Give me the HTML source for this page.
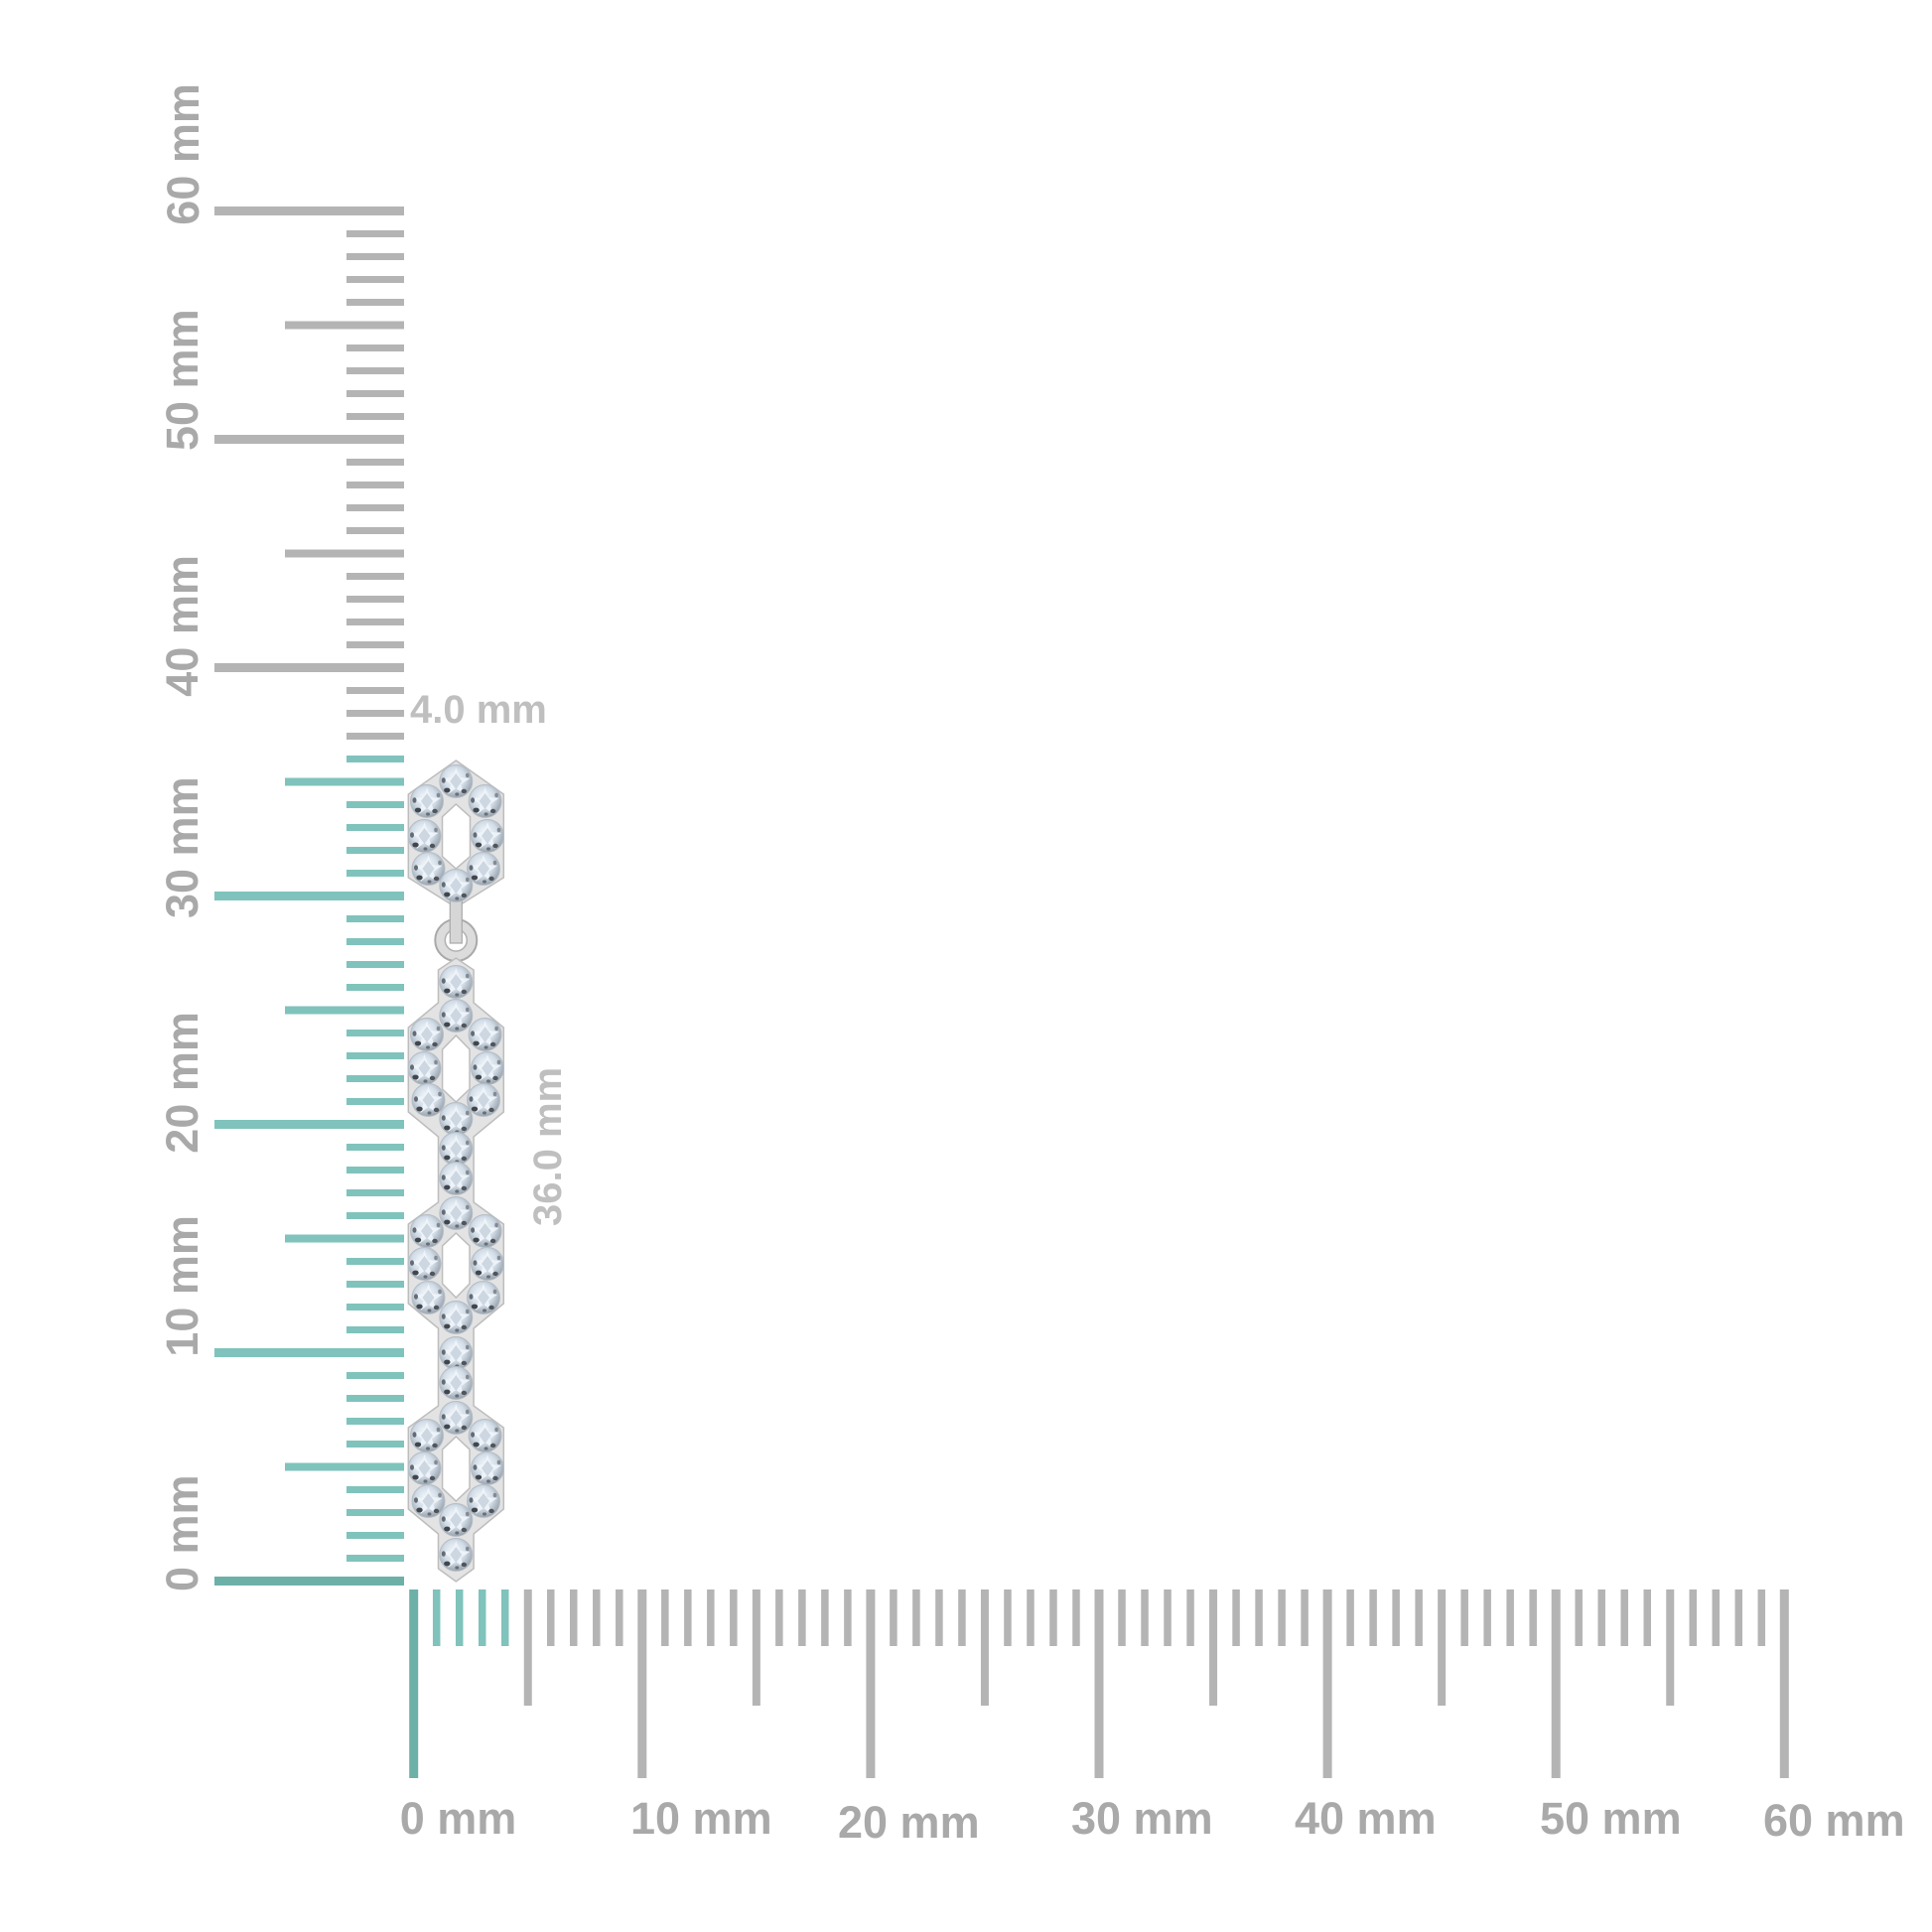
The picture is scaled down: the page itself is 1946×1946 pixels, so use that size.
<!DOCTYPE html>
<html>
<head>
<meta charset="utf-8">
<style>
  html,body{margin:0;padding:0;background:#ffffff;}
  svg{display:block;}
  .ax{font-family:"Liberation Sans",Arial,sans-serif;font-weight:bold;font-size:45px;fill:#a9a9a9;}
  .dim{font-family:"Liberation Sans",Arial,sans-serif;font-weight:bold;font-size:40px;fill:#bfbfbf;}
</style>
</head>
<body>
<svg xmlns="http://www.w3.org/2000/svg" width="1946" height="1946" viewBox="0 0 1946 1946">
  <defs>
    <radialGradient id="sg" cx="45%" cy="40%" r="60%">
      <stop offset="0%" stop-color="#f8fbfd"/>
      <stop offset="55%" stop-color="#d2dde8"/>
      <stop offset="100%" stop-color="#98a3ae"/>
    </radialGradient>
    <g id="stone">
      <circle r="16.5" fill="url(#sg)" stroke="#b5bdc5" stroke-width="1"/>
      <path d="M0,-14 L3.5,-4 L14,-3 L5,3 L8,13 L0,7 L-8,13 L-5,3 L-14,-3 L-3.5,-4 Z" fill="#f0f5fa" opacity="0.9"/>
      <path d="M0,-8 L6,0 L0,8 L-6,0 Z" fill="#c4d0dc" opacity="0.8"/>
      <ellipse cx="-9" cy="9" rx="3.2" ry="2.4" fill="#41464c"/>
      <ellipse cx="8" cy="10" rx="2.8" ry="2.2" fill="#50555c"/>
      <ellipse cx="-12.5" cy="-1" rx="2" ry="2.8" fill="#656b73"/>
      <ellipse cx="11.5" cy="-6" rx="1.8" ry="2.2" fill="#848a92"/>
      <ellipse cx="1" cy="13" rx="2" ry="1.6" fill="#6a7078"/>
    </g>
  </defs>

  <rect width="1946" height="1946" fill="#ffffff"/>

  <g id="vticks"></g>
  <g id="hticks"></g>

  <script><![CDATA[
    (function(){
      var ns="http://www.w3.org/2000/svg";
      var vg=document.getElementById("vticks");
      for(var v=0;v<=60;v++){
        var y=1592.5-v*23.0;
        var r=document.createElementNS(ns,"rect");
        var x0,h;
        if(v%10==0){x0=216;h=9;}else if(v%5==0){x0=287;h=8;}else{x0=349;h=7;}
        r.setAttribute("x",x0);r.setAttribute("y",y-h/2);
        r.setAttribute("width",407-x0);r.setAttribute("height",h);
        var c=v<=36?"#7fc3bc":"#b4b4b4";
        if(v==0)c="#6cb0a8";
        r.setAttribute("fill",c);
        vg.appendChild(r);
      }
      var hg=document.getElementById("hticks");
      for(var v=0;v<=60;v++){
        var x=416.7+v*23.01;
        var r=document.createElementNS(ns,"rect");
        var y1,w;
        if(v%10==0){y1=1791;w=9;}else if(v%5==0){y1=1718;w=8;}else{y1=1658;w=7.5;}
        r.setAttribute("x",x-w/2);r.setAttribute("y",1601);
        r.setAttribute("width",w);r.setAttribute("height",y1-1601);
        var c=v<=4?"#7fc3bc":"#b4b4b4";
        if(v==0)c="#6cb0a8";
        r.setAttribute("fill",c);
        hg.appendChild(r);
      }
    })();
  ]]></script>

  <!-- vertical axis labels -->
  <text class="ax" transform="translate(199,1603) rotate(-90)">0 mm</text>
  <text class="ax" transform="translate(199,1366.7) rotate(-90)">10 mm</text>
  <text class="ax" transform="translate(199,1161.7) rotate(-90)">20 mm</text>
  <text class="ax" transform="translate(199,925) rotate(-90)">30 mm</text>
  <text class="ax" transform="translate(199,701.7) rotate(-90)">40 mm</text>
  <text class="ax" transform="translate(199,454) rotate(-90)">50 mm</text>
  <text class="ax" transform="translate(200,226.7) rotate(-90)">60 mm</text>

  <!-- horizontal axis labels -->
  <text class="ax" x="402.7" y="1847">0 mm</text>
  <text class="ax" x="635" y="1847">10 mm</text>
  <text class="ax" x="844" y="1851">20 mm</text>
  <text class="ax" x="1079" y="1847">30 mm</text>
  <text class="ax" x="1304" y="1847">40 mm</text>
  <text class="ax" x="1551" y="1847">50 mm</text>
  <text class="ax" x="1776" y="1849">60 mm</text>

  <!-- dimension labels -->
  <text class="dim" x="413" y="728">4.0 mm</text>
  <text class="dim" transform="translate(565,1235) rotate(-90)">36.0 mm</text>

  <!-- earring -->
  <g>
    <path fill-rule="evenodd" fill="#e3e3e3" stroke="#bdbdbd" stroke-width="1.5"
      d="M459.3,766 L507.3,800 L507.3,884 L459.3,914 L411.3,884 L411.3,800 Z
         M459.3,810 L473.5,822.7 L473.5,862.7 L459.3,875 L445.5,862.7 L445.5,822.7 Z"/>
    <circle cx="459.3" cy="947" r="21" fill="#dcdcdc" stroke="#a9a9a9" stroke-width="2"/>
    <circle cx="459.3" cy="947" r="11" fill="#ffffff" stroke="#b0b0b0" stroke-width="1.5"/>
    <rect x="453.3" y="905" width="12" height="45" fill="#d6d6d6" stroke="#a9a9a9" stroke-width="1.2"/>

    <path fill-rule="evenodd" fill="#e3e3e3" stroke="#bdbdbd" stroke-width="1.5"
      d="M459.3,965 L477.1,977 L477.1,1010 L507.3,1035 L507.3,1120 L477.1,1145 L477.1,1211 L507.3,1233 L507.3,1313 L477.1,1338 L477.1,1416 L507.3,1438 L507.3,1520 L477.1,1545 L477.1,1580 L459.3,1593 L441.5,1580 L441.5,1545 L411.3,1520 L411.3,1438 L441.5,1416 L441.5,1338 L411.3,1313 L411.3,1233 L441.5,1211 L441.5,1145 L411.3,1120 L411.3,1035 L441.5,1010 L441.5,977 Z
         M459.3,1043 L473,1057 L473,1097 L459.3,1110 L445.6,1097 L445.6,1057 Z
         M459.3,1242 L473,1255 L473,1293 L459.3,1307 L445.6,1293 L445.6,1255 Z
         M459.3,1447 L473,1460 L473,1499 L459.3,1512 L445.6,1499 L445.6,1460 Z"/>

    <use href="#stone" x="459.3" y="787"/>
    <use href="#stone" x="430" y="807"/>
    <use href="#stone" x="488.6" y="807"/>
    <use href="#stone" x="427.5" y="842"/>
    <use href="#stone" x="491" y="842"/>
    <use href="#stone" x="431.5" y="875"/>
    <use href="#stone" x="487" y="875"/>
    <use href="#stone" x="459.3" y="892"/>

    <use href="#stone" x="459.3" y="989"/>

    <use href="#stone" x="459.3" y="1023"/>
    <use href="#stone" x="430" y="1042"/>
    <use href="#stone" x="488.6" y="1042"/>
    <use href="#stone" x="427.5" y="1076"/>
    <use href="#stone" x="491" y="1076"/>
    <use href="#stone" x="431.5" y="1108"/>
    <use href="#stone" x="487" y="1108"/>
    <use href="#stone" x="459.3" y="1127"/>

    <use href="#stone" x="459.3" y="1157"/>
    <use href="#stone" x="459.3" y="1187"/>

    <use href="#stone" x="459.3" y="1222"/>
    <use href="#stone" x="430" y="1240"/>
    <use href="#stone" x="488.6" y="1240"/>
    <use href="#stone" x="427.5" y="1273"/>
    <use href="#stone" x="491" y="1273"/>
    <use href="#stone" x="431.5" y="1307"/>
    <use href="#stone" x="487" y="1307"/>
    <use href="#stone" x="459.3" y="1327"/>

    <use href="#stone" x="459.3" y="1363"/>
    <use href="#stone" x="459.3" y="1393"/>

    <use href="#stone" x="459.3" y="1428"/>
    <use href="#stone" x="430" y="1446"/>
    <use href="#stone" x="488.6" y="1446"/>
    <use href="#stone" x="427.5" y="1479"/>
    <use href="#stone" x="491" y="1479"/>
    <use href="#stone" x="431.5" y="1512"/>
    <use href="#stone" x="487" y="1512"/>
    <use href="#stone" x="459.3" y="1531"/>

    <use href="#stone" x="459.3" y="1566"/>
  </g>
</svg>
</body>
</html>
